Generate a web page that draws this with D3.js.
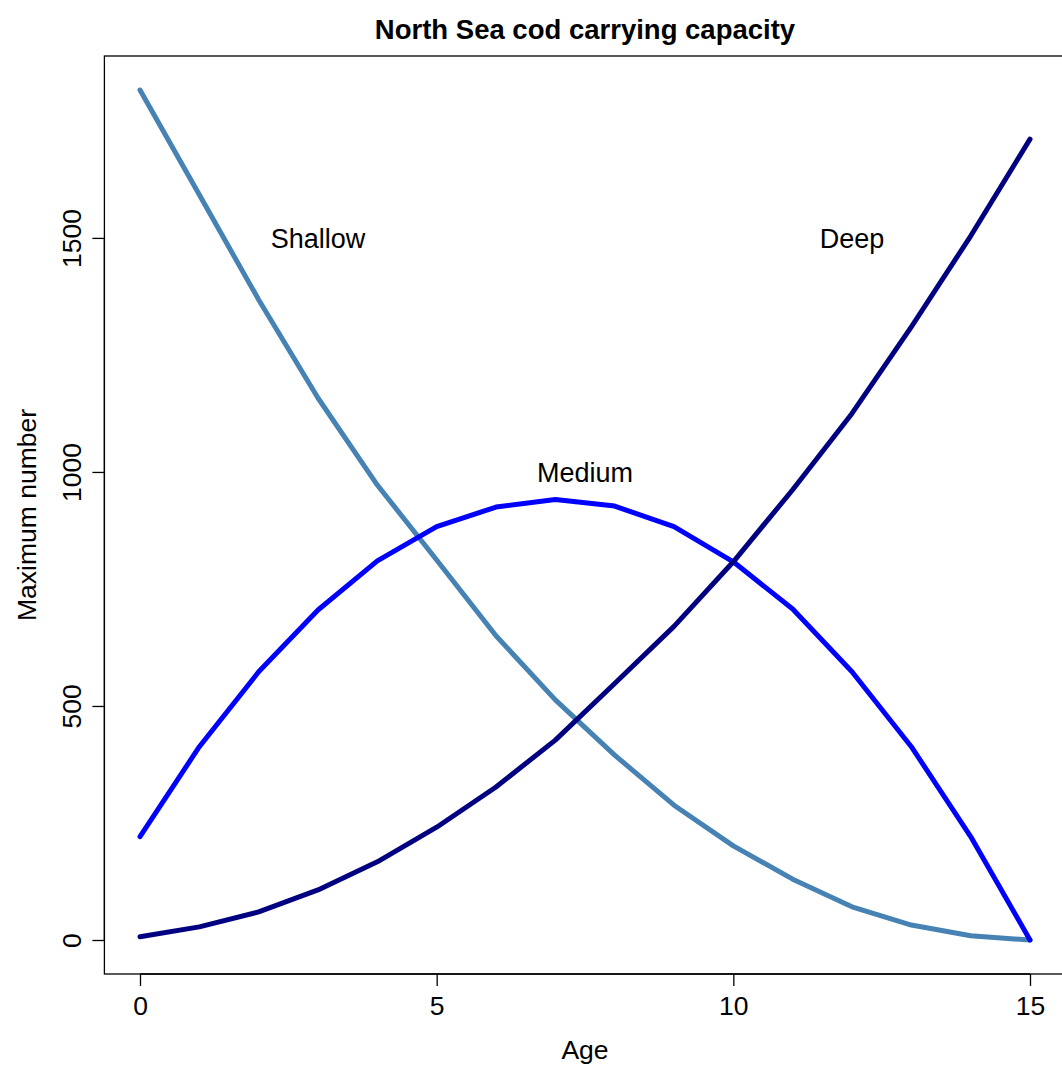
<!DOCTYPE html>
<html>
<head>
<meta charset="utf-8">
<script src="https://cdn.jsdelivr.net/npm/d3@7"></script>
<style>
  html, body { margin: 0; padding: 0; background: #fff; }
  svg { display: block; }
  text { font-family: "Liberation Sans", Arial, Helvetica, sans-serif; fill: #000; }
</style>
</head>
<body>
<svg id="chart" width="1062" height="1068"></svg>
<script>
// ---- data ----
const ages    = [0, 1, 2, 3, 4, 5, 6, 7, 8, 9, 10, 11, 12, 13, 14, 15];
const shallow = [1816, 1592, 1368, 1158, 972, 812, 650, 513, 395, 288, 201, 130, 71, 32, 9, 0];
const medium  = [221, 413, 573, 705, 810, 883, 925, 941, 927, 883, 808, 707, 573, 413, 221, 0];
const deep    = [7, 28, 60, 107, 167, 241, 327, 427, 548, 670, 808, 962, 1125, 1310, 1504, 1711];
const seriesNames  = ["Shallow", "Medium", "Deep"];
const labelAges    = [3, 7.5, 12];
const labelValues  = [1500, 1000, 1500];
const xTicks = [0, 5, 10, 15];
const yTicks = [0, 500, 1000, 1500];
const titleText = "North Sea cod carrying capacity";
const xLabel = "Age";
const yLabel = "Maximum number";

// ---- layout ----
const svg = d3.select("#chart");
const plotLeft = 104.4, plotRight = 1065.6, plotTop = 56, plotBottom = 974;
const fs = "26.5px";

const xMin = d3.min(ages), xMax = d3.max(ages);
const allVals = shallow.concat(medium, deep);
const yMin = d3.min(allVals), yMax = d3.max(allVals);
const xPad = (xMax - xMin) * 0.04, yPad = (yMax - yMin) * 0.04;

const x = d3.scaleLinear().domain([xMin - xPad, xMax + xPad]).range([plotLeft, plotRight]);
const y = d3.scaleLinear().domain([yMin - yPad, yMax + yPad]).range([plotBottom, plotTop]);

// box
svg.append("rect")
  .attr("x", plotLeft).attr("y", plotTop)
  .attr("width", plotRight - plotLeft).attr("height", plotBottom - plotTop)
  .attr("fill", "none").attr("stroke", "#000").attr("stroke-width", 1.3);

// x axis (R style: line from first to last tick)
const xAxisG = svg.append("g").attr("transform", `translate(0,${plotBottom})`)
  .call(d3.axisBottom(x).tickValues(xTicks).tickSizeOuter(0).tickSize(12).tickFormat(d3.format("d")));
xAxisG.select(".domain").remove();
xAxisG.append("line")
  .attr("x1", x(xTicks[0])).attr("x2", x(xTicks[xTicks.length - 1]))
  .attr("stroke", "#000").attr("stroke-width", 1.3);
xAxisG.selectAll(".tick line").attr("stroke", "#000").attr("stroke-width", 1.3);
xAxisG.selectAll(".tick text")
  .style("font-size", fs).style("font-family", "Liberation Sans, Arial, sans-serif").attr("fill", "#000")
  .attr("y", 41).attr("dy", null);

// y axis
const yAxisG = svg.append("g").attr("transform", `translate(${plotLeft},0)`)
  .call(d3.axisLeft(y).tickValues(yTicks).tickSizeOuter(0).tickSize(12).tickFormat(d3.format("d")));
yAxisG.select(".domain").remove();
yAxisG.append("line")
  .attr("y1", y(yTicks[0])).attr("y2", y(yTicks[yTicks.length - 1]))
  .attr("stroke", "#000").attr("stroke-width", 1.3);
yAxisG.selectAll(".tick line").attr("stroke", "#000").attr("stroke-width", 1.3);
yAxisG.selectAll(".tick text")
  .style("font-size", fs).style("font-family", "Liberation Sans, Arial, sans-serif").attr("fill", "#000")
  .attr("x", null).attr("dy", null)
  .attr("text-anchor", "middle")
  .attr("transform", "translate(-23,0) rotate(-90)");

// lines
const colors = ["#4682B4", "#0000FF", "#000080"];
const seriesData = [shallow, medium, deep];
const line = d3.line().x((d, i) => x(ages[i])).y(d => y(d));
seriesData.forEach((vals, k) => {
  svg.append("path")
    .datum(vals)
    .attr("d", line)
    .attr("fill", "none")
    .attr("stroke", colors[k])
    .attr("stroke-width", 5)
    .attr("stroke-linecap", "round")
    .attr("stroke-linejoin", "round");
});

// series labels
seriesNames.forEach((name, k) => {
  svg.append("text")
    .attr("x", x(labelAges[k]))
    .attr("y", y(labelValues[k]))
    .attr("dy", "0.36em")
    .attr("text-anchor", "middle")
    .style("font-size", "27px")
    .text(name);
});

// title
svg.append("text")
  .attr("x", (plotLeft + plotRight) / 2)
  .attr("y", 39)
  .attr("text-anchor", "middle")
  .style("font-size", "27.5px")
  .style("font-weight", "bold")
  .text(titleText);

// x label
svg.append("text")
  .attr("x", (plotLeft + plotRight) / 2)
  .attr("y", 1059)
  .attr("text-anchor", "middle")
  .style("font-size", fs)
  .text(xLabel);

// y label
svg.append("text")
  .attr("transform", `translate(36,${(plotTop + plotBottom) / 2}) rotate(-90)`)
  .attr("text-anchor", "middle")
  .style("font-size", fs)
  .text(yLabel);
</script>
</body>
</html>
